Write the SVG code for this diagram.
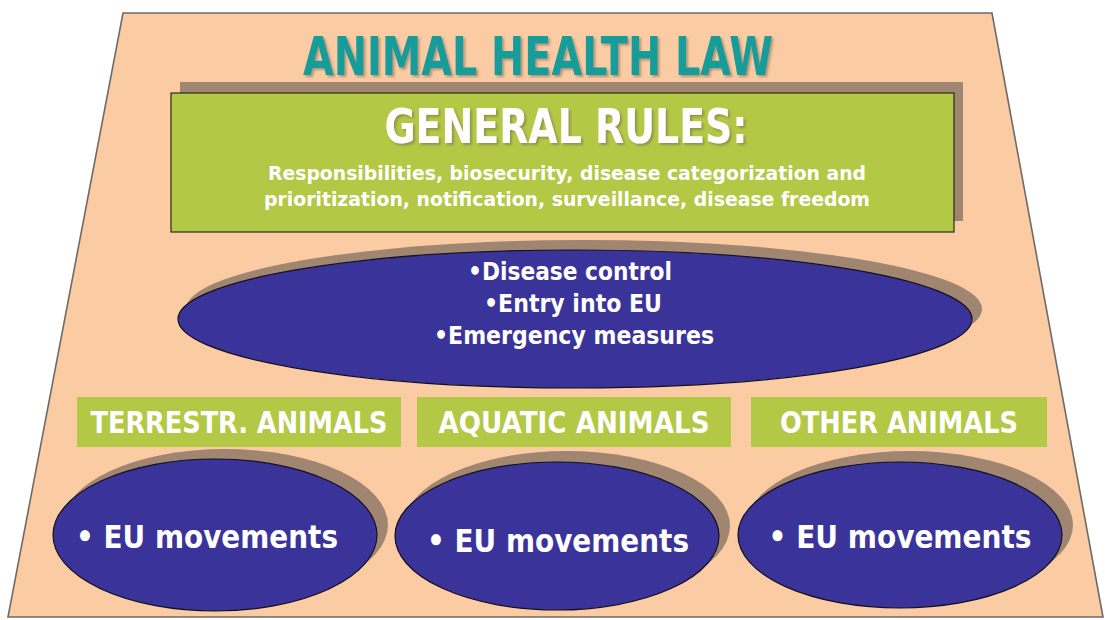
<svg xmlns="http://www.w3.org/2000/svg" width="1105" height="620" viewBox="0 0 1105 620">
<defs>
<filter id="tsh" x="-5%" y="-20%" width="110%" height="140%">
<feDropShadow dx="2" dy="2" stdDeviation="0.8" flood-color="#6E5E50" flood-opacity="0.5"/>
</filter>
</defs>
<style>
.bg{fill:#FBCBA3;stroke:#6E6A66;stroke-width:1.6}
.shadow{fill:#A08571}
.green{fill:#B3C844}
.greenb{fill:#B3C844;stroke:#2A2A1A;stroke-width:1.2}
.blue{fill:#3A3399;stroke:#141020;stroke-width:1.2}
.w{fill:#FFFFFF;font-family:"DejaVu Sans",Verdana,sans-serif;font-weight:bold;text-anchor:middle}
.title{fill:#169C99;font-family:"DejaVu Sans",Verdana,sans-serif;font-weight:bold;text-anchor:middle}
.sh{filter:url(#tsh)}
</style>
<g id="background">
<polygon class="bg" points="123,13 992,13 1103,617 8,617"/>
</g>
<g id="title">
<text class="title sh" x="538" y="75" font-size="54" textLength="470" lengthAdjust="spacingAndGlyphs">ANIMAL HEALTH LAW</text>
</g>
<g id="general-rules">
<rect class="shadow" x="180" y="82" width="783" height="139"/>
<rect class="greenb" x="171" y="93" width="783" height="139"/>
<text class="w sh" x="566" y="143" font-size="48" textLength="363" lengthAdjust="spacingAndGlyphs">GENERAL RULES:</text>
<text class="w" x="567" y="180" font-size="20" textLength="598" lengthAdjust="spacingAndGlyphs">Responsibilities, biosecurity, disease categorization and</text>
<text class="w" x="567" y="206" font-size="20" textLength="606" lengthAdjust="spacingAndGlyphs">prioritization, notification, surveillance, disease freedom</text>
</g>
<g id="main-measures">
<ellipse class="shadow" cx="584" cy="309" rx="398" ry="69"/>
<ellipse class="blue" cx="575" cy="319" rx="397" ry="69"/>
<text class="w" x="570" y="280" font-size="24" textLength="204" lengthAdjust="spacingAndGlyphs">•Disease control</text>
<text class="w" x="573" y="312" font-size="24" textLength="178" lengthAdjust="spacingAndGlyphs">•Entry into EU</text>
<text class="w" x="574" y="344" font-size="24" textLength="280" lengthAdjust="spacingAndGlyphs">•Emergency measures</text>
</g>
<g id="terrestrial">
<rect class="green" x="77" y="397" width="324" height="50"/>
<text class="w" x="239" y="433" font-size="30" textLength="297" lengthAdjust="spacingAndGlyphs">TERRESTR. ANIMALS</text>
<ellipse class="shadow" cx="225" cy="525" rx="163" ry="76"/>
<ellipse class="blue" cx="215" cy="535" rx="162" ry="76"/>
<text class="w" x="207" y="548" font-size="32" textLength="262" lengthAdjust="spacingAndGlyphs">• EU movements</text>
</g>
<g id="aquatic">
<rect class="green" x="417" y="397" width="314" height="50"/>
<text class="w" x="574" y="433" font-size="30" textLength="271" lengthAdjust="spacingAndGlyphs">AQUATIC ANIMALS</text>
<ellipse class="shadow" cx="567" cy="526" rx="163" ry="75"/>
<ellipse class="blue" cx="557" cy="536" rx="162" ry="74"/>
<text class="w" x="558" y="552" font-size="32" textLength="262" lengthAdjust="spacingAndGlyphs">• EU movements</text>
</g>
<g id="other">
<rect class="green" x="751" y="397" width="296" height="50"/>
<text class="w" x="899" y="433" font-size="30" textLength="238" lengthAdjust="spacingAndGlyphs">OTHER ANIMALS</text>
<ellipse class="shadow" cx="910" cy="525" rx="163" ry="74"/>
<ellipse class="blue" cx="900" cy="535" rx="162" ry="73"/>
<text class="w" x="900" y="548" font-size="32" textLength="263" lengthAdjust="spacingAndGlyphs">• EU movements</text>
</g>
<g id="connectors"></g>
</svg>
